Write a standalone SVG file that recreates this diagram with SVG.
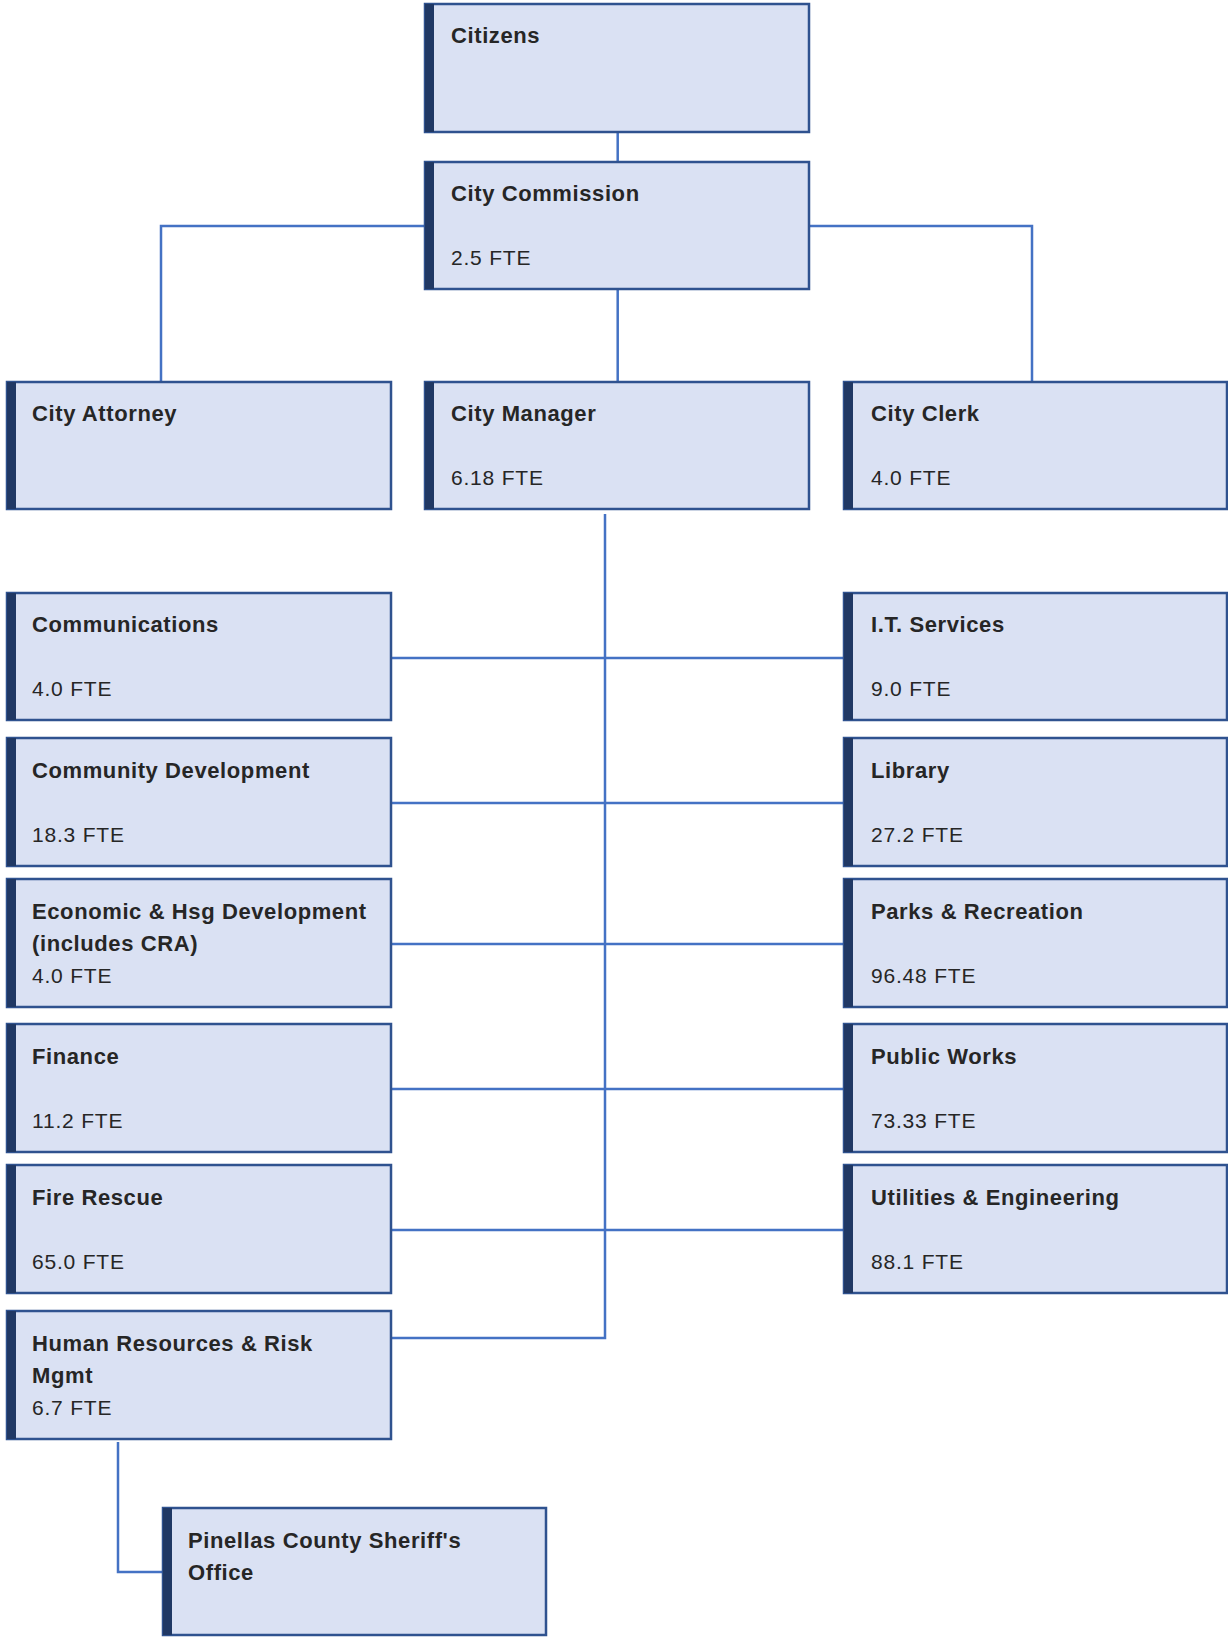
<svg xmlns="http://www.w3.org/2000/svg" width="1228" height="1637" viewBox="0 0 1228 1637">
<style>
.box{fill:#dae1f3;stroke:#2f528f;stroke-width:2.5}
.bar{fill:#203864}
.t{font-family:"Liberation Sans",Arial,sans-serif;font-size:22px;font-weight:bold;fill:#262626;letter-spacing:0.6px}
.f{font-family:"Liberation Sans",Arial,sans-serif;font-size:21px;fill:#262626;letter-spacing:0.8px}
.c{fill:none;stroke:#4472c4;stroke-width:2.5}
</style>
<rect width="1228" height="1637" fill="#ffffff"/>
<g id="connectors">
<path class="c" d="M617.7 132V162"/>
<path class="c" d="M425 226H161V382"/>
<path class="c" d="M809 226H1032V382"/>
<path class="c" d="M617.7 289V382"/>
<path class="c" d="M605 514V1338H390"/>
<path class="c" d="M390 658H844"/>
<path class="c" d="M390 803H844"/>
<path class="c" d="M390 944H844"/>
<path class="c" d="M390 1089H844"/>
<path class="c" d="M390 1230H844"/>
<path class="c" d="M118 1442V1572H163"/>
</g>
<g id="citizens"><rect class="box" x="425" y="4" width="384" height="128"/><rect class="bar" x="425" y="4" width="9" height="128"/><text class="t" x="451" y="43">Citizens</text></g>
<g id="city-commission"><rect class="box" x="425" y="162" width="384" height="127"/><rect class="bar" x="425" y="162" width="9" height="127"/><text class="t" x="451" y="201">City Commission</text><text class="f" x="451" y="265">2.5 FTE</text></g>
<g id="city-attorney"><rect class="box" x="7" y="382" width="384" height="127"/><rect class="bar" x="7" y="382" width="9" height="127"/><text class="t" x="32" y="421">City Attorney</text></g>
<g id="city-manager"><rect class="box" x="425" y="382" width="384" height="127"/><rect class="bar" x="425" y="382" width="9" height="127"/><text class="t" x="451" y="421">City Manager</text><text class="f" x="451" y="485">6.18 FTE</text></g>
<g id="city-clerk"><rect class="box" x="844" y="382" width="383" height="127"/><rect class="bar" x="844" y="382" width="9" height="127"/><text class="t" x="871" y="421">City Clerk</text><text class="f" x="871" y="485">4.0 FTE</text></g>
<g id="communications"><rect class="box" x="7" y="593" width="384" height="127"/><rect class="bar" x="7" y="593" width="9" height="127"/><text class="t" x="32" y="632">Communications</text><text class="f" x="32" y="696">4.0 FTE</text></g>
<g id="it-services"><rect class="box" x="844" y="593" width="383" height="127"/><rect class="bar" x="844" y="593" width="9" height="127"/><text class="t" x="871" y="632">I.T. Services</text><text class="f" x="871" y="696">9.0 FTE</text></g>
<g id="community-development"><rect class="box" x="7" y="738" width="384" height="128"/><rect class="bar" x="7" y="738" width="9" height="128"/><text class="t" x="32" y="778">Community Development</text><text class="f" x="32" y="842">18.3 FTE</text></g>
<g id="library"><rect class="box" x="844" y="738" width="383" height="128"/><rect class="bar" x="844" y="738" width="9" height="128"/><text class="t" x="871" y="778">Library</text><text class="f" x="871" y="842">27.2 FTE</text></g>
<g id="economic-housing"><rect class="box" x="7" y="879" width="384" height="128"/><rect class="bar" x="7" y="879" width="9" height="128"/><text class="t" x="32" y="919">Economic &amp; Hsg Development</text><text class="t" x="32" y="951">(includes CRA)</text><text class="f" x="32" y="983">4.0 FTE</text></g>
<g id="parks-recreation"><rect class="box" x="844" y="879" width="383" height="128"/><rect class="bar" x="844" y="879" width="9" height="128"/><text class="t" x="871" y="919">Parks &amp; Recreation</text><text class="f" x="871" y="983">96.48 FTE</text></g>
<g id="finance"><rect class="box" x="7" y="1024" width="384" height="128"/><rect class="bar" x="7" y="1024" width="9" height="128"/><text class="t" x="32" y="1064">Finance</text><text class="f" x="32" y="1128">11.2 FTE</text></g>
<g id="public-works"><rect class="box" x="844" y="1024" width="383" height="128"/><rect class="bar" x="844" y="1024" width="9" height="128"/><text class="t" x="871" y="1064">Public Works</text><text class="f" x="871" y="1128">73.33 FTE</text></g>
<g id="fire-rescue"><rect class="box" x="7" y="1165" width="384" height="128"/><rect class="bar" x="7" y="1165" width="9" height="128"/><text class="t" x="32" y="1205">Fire Rescue</text><text class="f" x="32" y="1269">65.0 FTE</text></g>
<g id="utilities-engineering"><rect class="box" x="844" y="1165" width="383" height="128"/><rect class="bar" x="844" y="1165" width="9" height="128"/><text class="t" x="871" y="1205">Utilities &amp; Engineering</text><text class="f" x="871" y="1269">88.1 FTE</text></g>
<g id="human-resources"><rect class="box" x="7" y="1311" width="384" height="128"/><rect class="bar" x="7" y="1311" width="9" height="128"/><text class="t" x="32" y="1351">Human Resources &amp; Risk</text><text class="t" x="32" y="1383">Mgmt</text><text class="f" x="32" y="1415">6.7 FTE</text></g>
<g id="sheriff"><rect class="box" x="163" y="1508" width="383" height="127"/><rect class="bar" x="163" y="1508" width="9" height="127"/><text class="t" x="188" y="1548">Pinellas County Sheriff's</text><text class="t" x="188" y="1580">Office</text></g>
</svg>
